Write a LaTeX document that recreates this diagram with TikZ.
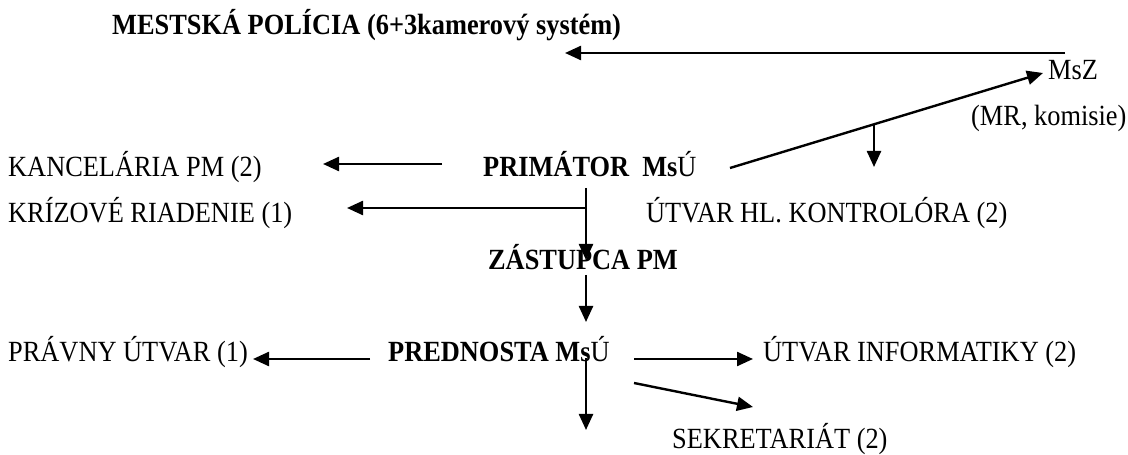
\documentclass[tikz,border=0pt]{standalone}
\usepackage{fontspec}
\setmainfont{Liberation Serif}[FakeStretch=0.9]
\usetikzlibrary{arrows.meta}
\begin{document}
\begin{tikzpicture}[x=1bp,y=-1bp,
  lbl/.style={inner sep=0pt,anchor=base west,font=\fontsize{29.4pt}{34pt}\selectfont},
  blbl/.style={lbl,font=\fontsize{29.4pt}{34pt}\selectfont\bfseries},
  arr/.style={line width=2.4bp,-{Triangle[length=16bp,width=14bp]}}]
\useasboundingbox (0,0) rectangle (1128,455);
% texts
\node[blbl] (pol) at (112,35) {MESTSKÁ POLÍCIA (6+3kamerový systém)};
\node[lbl] (msz) at (1048,80) {MsZ};
\node[lbl] (mr) at (971,126) {(MR, komisie)};
\node[lbl] (kanc) at (8,177) {KANCELÁRIA PM (2)};
\node[blbl] (prim) at (483,177) {PRIMÁTOR\ \ Ms{\mdseries Ú}};
\node[lbl] (kriz) at (8,223) {KRÍZOVÉ RIADENIE (1)};
\node[lbl] (hlk) at (646,223) {ÚTVAR HL. KONTROLÓRA (2)};
\node[blbl,anchor=base east] (zast) at (678,270) {ZÁSTUPCA PM};
\node[lbl] (prav) at (8,362) {PRÁVNY ÚTVAR (1)};
\node[blbl] (pred) at (388,362) {PREDNOSTA Ms{\mdseries Ú}};
\node[lbl] (info) at (763,362) {ÚTVAR INFORMATIKY (2)};
\node[lbl] (sekr) at (672,449) {SEKRETARIÁT (2)};
% connector end points
\coordinate (mszA) at (1065,53);
\coordinate (polA) at (565,53);
\coordinate (primR) at (730,168);
\coordinate (mszL) at (1043,73);
\coordinate (brk) at (874,124);
\coordinate (hlkT) at (874,167);
\coordinate (primL) at (442,164);
\coordinate (kancR) at (323,164);
\coordinate (primB) at (586,188);
\coordinate (krizJ) at (586,208);
\coordinate (krizR) at (347,208);
\coordinate (zastT) at (586,260);
\coordinate (zastB) at (586,275);
\coordinate (predT) at (586,322);
\coordinate (predL) at (370,359);
\coordinate (pravR) at (253,359);
\coordinate (predR) at (634,359);
\coordinate (infoL) at (753,359);
\coordinate (predD) at (634,383);
\coordinate (sekrA) at (753,407);
\coordinate (predB) at (586,358);
\coordinate (predE) at (586,430);
% connectors
\draw[arr] (mszA) -- (polA);
\draw[arr] (primR) -- (mszL);
\draw[arr] (brk) -- (hlkT);
\draw[arr] (primL) -- (kancR);
\draw[arr] (krizJ) -- (krizR);
\draw[arr] (primB) -- (zastT);
\draw[arr] (zastB) -- (predT);
\draw[arr] (predL) -- (pravR);
\draw[arr] (predR) -- (infoL);
\draw[arr] (predD) -- (sekrA);
\draw[arr] (predB) -- (predE);
\end{tikzpicture}
\end{document}
